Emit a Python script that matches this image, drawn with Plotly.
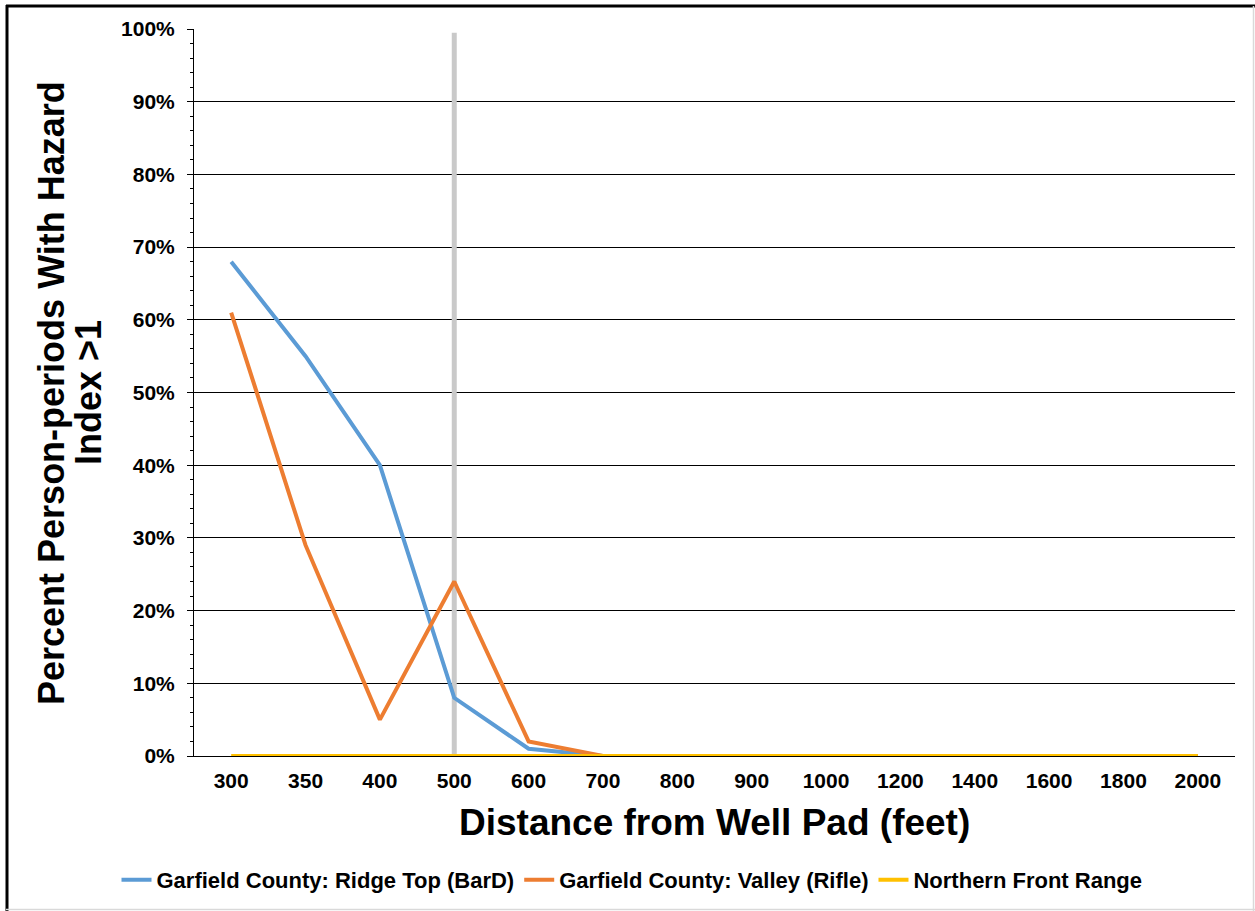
import plotly.graph_objects as go

# Distance categories (feet)
distances = ["300", "350", "400", "500", "600", "700", "800", "900",
             "1000", "1200", "1400", "1600", "1800", "2000"]

# Share of person-periods with hazard index > 1
ridge_top = [0.68, 0.55, 0.40, 0.08, 0.01, 0.0, 0.0, 0.0, 0.0, 0.0, 0.0, 0.0, 0.0, 0.0]
valley = [0.61, 0.29, 0.05, 0.24, 0.02, 0.0, 0.0, 0.0, 0.0, 0.0, 0.0, 0.0, 0.0, 0.0]
front_range = [0.0] * 14

# 500 ft reference marker
ref_x = ["500", "500"]
ref_y = [0.0, 0.995]

W, H = 1255, 911
L, R, T, B = 194, W - 1235, 29, H - 756
FONT = "Liberation Sans, Arial, sans-serif"


def px(xp):
    return (xp - L) / (W - L - R)


def py(yp):
    return (H - B - yp) / (H - T - B)


fig = go.Figure()

fig.add_trace(go.Scatter(x=ref_x, y=ref_y, mode="lines",
                         line=dict(color="#C9C9C9", width=5),
                         showlegend=False, hoverinfo="skip"))
fig.add_trace(go.Scatter(x=distances, y=ridge_top, mode="lines",
                         name="Garfield County: Ridge Top (BarD)",
                         line=dict(color="#5B9BD5", width=4)))
fig.add_trace(go.Scatter(x=distances, y=valley, mode="lines",
                         name="Garfield County: Valley (Rifle)",
                         line=dict(color="#ED7D31", width=4)))
fig.add_trace(go.Scatter(x=distances, y=front_range, mode="lines",
                         name="Northern Front Range",
                         line=dict(color="#FFC000", width=4)))

# Outer frame: dark on top/left, light on bottom/right
shapes = [
    dict(type="line", xref="paper", yref="paper", x0=px(7), x1=px(7), y0=py(5), y1=py(911),
         line=dict(color="black", width=3)),
    dict(type="line", xref="paper", yref="paper", x0=px(6), x1=px(1255), y0=py(6), y1=py(6),
         line=dict(color="black", width=3)),
    dict(type="line", xref="paper", yref="paper", x0=px(1253.5), x1=px(1253.5), y0=py(6), y1=py(911),
         line=dict(color="#D9D9D9", width=1.5)),
    dict(type="line", xref="paper", yref="paper", x0=px(6), x1=px(1255), y0=py(909.5), y1=py(909.5),
         line=dict(color="#D9D9D9", width=1.5)),
]

title_font = dict(family=FONT, size=36, color="black")
annotations = [
    dict(text="<b>Percent Person-periods With Hazard</b>",
         xref="paper", yref="paper", x=px(51), y=py(393), textangle=-90,
         showarrow=False, font=title_font, xanchor="center", yanchor="middle"),
    dict(text="<b>Index >1</b>",
         xref="paper", yref="paper", x=px(88), y=py(393), textangle=-90,
         showarrow=False, font=title_font, xanchor="center", yanchor="middle"),
    dict(text="<b>Distance from Well Pad (feet)</b>",
         xref="paper", yref="paper", x=0.5, y=py(822),
         showarrow=False, font=dict(family=FONT, size=37, color="black"),
         xanchor="center", yanchor="middle"),
]

tick_font = dict(family=FONT, size=21, color="black", weight="bold")

fig.update_layout(
    width=W, height=H,
    margin=dict(l=L, r=R, t=T, b=B, autoexpand=False),
    paper_bgcolor="white", plot_bgcolor="white",
    font=dict(family=FONT, color="black"),
    shapes=shapes,
    annotations=annotations,
    legend=dict(orientation="h", x=px(632), y=py(880), xanchor="center", yanchor="middle",
                font=dict(family=FONT, size=22, color="black", weight="bold"),
                itemwidth=30, tracegroupgap=0, bgcolor="rgba(0,0,0,0)"),
    xaxis=dict(type="category", categoryorder="array", categoryarray=distances,
               range=[-0.5, 13.5], showgrid=False,
               showline=True, linecolor="black", linewidth=1, ticks="",
               tickfont=tick_font, ticklabelstandoff=6, zeroline=False),
    yaxis=dict(range=[0, 1], dtick=0.1, tickformat=".0%",
               showgrid=True, gridcolor="black", gridwidth=1,
               showline=True, linecolor="black", linewidth=1,
               ticks="outside", ticklen=6, tickcolor="black",
               minor=dict(dtick=0.02, ticks="outside", ticklen=3, tickcolor="black", showgrid=False),
               tickfont=tick_font, ticklabelstandoff=8, zeroline=False),
)

fig.write_html("out.html")
